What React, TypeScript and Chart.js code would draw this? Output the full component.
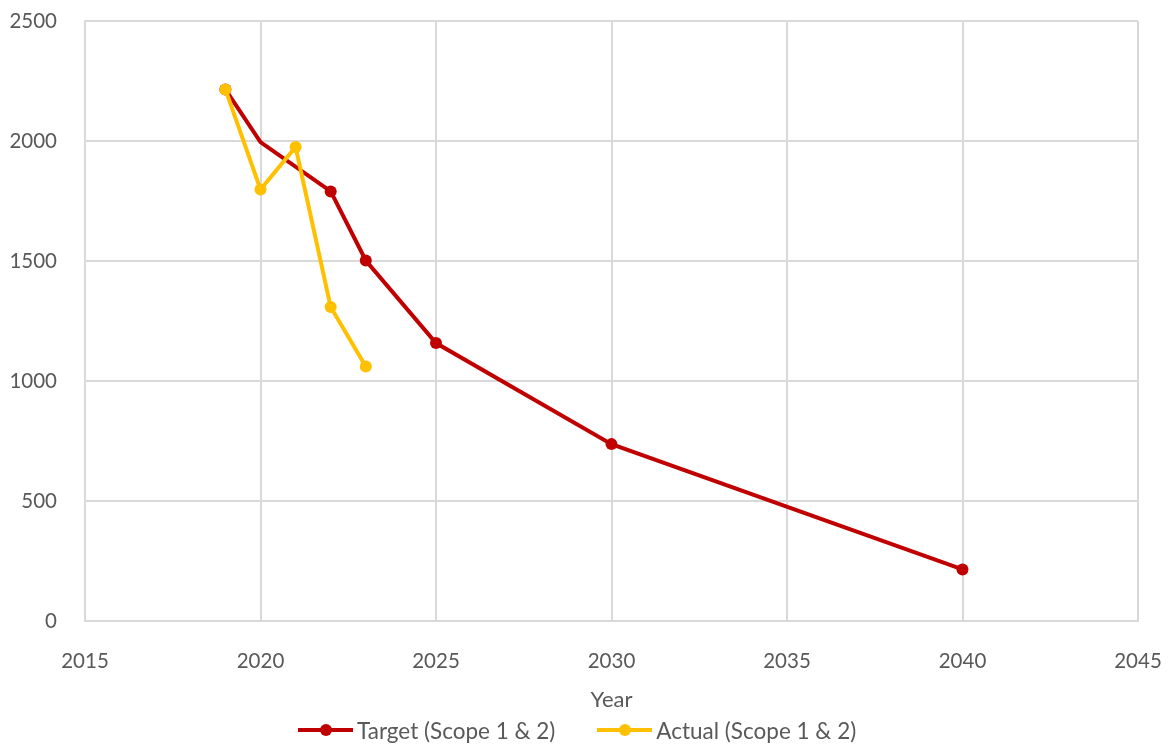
import React, { useEffect, useRef } from "react";
import { Chart, registerables } from "chart.js";
Chart.register(...registerables);

const targetYears = [2019, 2020, 2022, 2023, 2025, 2030, 2040];
const targetValues = [2215, 1995, 1790, 1502, 1158, 737, 215];
const targetRadius = [6, 0, 6, 6, 6, 6, 6];
const actualYears = [2019, 2020, 2021, 2022, 2023];
const actualValues = [2215, 1798, 1975, 1308, 1060];
const seriesNames = ["Target (Scope 1 & 2)", "Actual (Scope 1 & 2)"];
const seriesColors = ["#C00000", "#FFC000"];
const xTitle = "Year";

const FONT = "Lato, 'Open Sans', sans-serif";
const GREY = "#595959";

function LegendIcon({ color }: { color: string }) {
  return (
    <span style={{ position: "relative", display: "inline-block", width: 55, height: 14, verticalAlign: "middle" }}>
      <span style={{ position: "absolute", left: 0, right: 0, top: 5, height: 4, background: color }} />
      <span style={{ position: "absolute", left: 21.5, top: 1, width: 12, height: 12, borderRadius: "50%", background: color }} />
    </span>
  );
}

export default function App() {
  const ref = useRef<HTMLCanvasElement>(null);
  useEffect(() => {
    document.body.style.margin = "0";
    const chart = new Chart(ref.current!, {
      type: "scatter",
      data: {
        datasets: [
          {
            label: seriesNames[0],
            data: targetYears.map((x, i) => ({ x, y: targetValues[i] })),
            showLine: true,
            borderColor: seriesColors[0],
            backgroundColor: seriesColors[0],
            borderWidth: 4,
            pointRadius: targetRadius,
            pointBorderWidth: 0,
            order: 2,
          },
          {
            label: seriesNames[1],
            data: actualYears.map((x, i) => ({ x, y: actualValues[i] })),
            showLine: true,
            borderColor: seriesColors[1],
            backgroundColor: seriesColors[1],
            borderWidth: 4,
            pointRadius: 6,
            pointBorderWidth: 0,
            order: 1,
          },
        ],
      },
      options: {
        animation: false,
        responsive: false,
        layout: { padding: { left: 0, right: 32, top: 21, bottom: 28 } },
        scales: {
          x: {
            type: "linear",
            min: 2015,
            max: 2045,
            ticks: { stepSize: 5, color: GREY, font: { family: FONT, size: 20.5 }, padding: 0, callback: (v: any) => String(v) },
            grid: { color: "#D9D9D9", lineWidth: 2, drawTicks: true, tickLength: 28, tickColor: "rgba(0,0,0,0)" },
            border: { display: true, color: "#D9D9D9", width: 2 },
            title: { display: true, text: xTitle, color: GREY, font: { family: FONT, size: 22 }, padding: { top: 8, bottom: 3 } },
            afterFit: (s: any) => { s.height = 95; },
          },
          y: {
            min: 0,
            max: 2500,
            ticks: { stepSize: 500, color: GREY, font: { family: FONT, size: 20.5 }, padding: 0, callback: (v: any) => String(v) },
            grid: { color: "#D9D9D9", lineWidth: 2, drawTicks: true, tickLength: 28, tickColor: "rgba(0,0,0,0)" },
            border: { display: true, color: "#D9D9D9", width: 2 },
            afterFit: (s: any) => { s.width = 85; },
          },
        },
        plugins: {
          tooltip: { enabled: false },
          legend: { display: false },
        },
      },
    } as any);
    return () => chart.destroy();
  }, []);
  return (
    <div style={{ position: "relative", width: 1170, height: 744 }}>
      <canvas ref={ref} width={1170} height={744} style={{ display: "block" }} />
      <div
        style={{
          position: "absolute",
          left: 298,
          top: 716,
          height: 28,
          display: "flex",
          alignItems: "center",
          whiteSpace: "nowrap",
          fontFamily: FONT,
          fontSize: 22.5,
          color: GREY,
        }}
      >
        {seriesNames.map((n, i) => (
          <span key={n} style={{ display: "inline-flex", alignItems: "center", marginRight: i === 0 ? 42 : 0 }}>
            <LegendIcon color={seriesColors[i]} />
            <span style={{ marginLeft: 4 }}>{n}</span>
          </span>
        ))}
      </div>
    </div>
  );
}
